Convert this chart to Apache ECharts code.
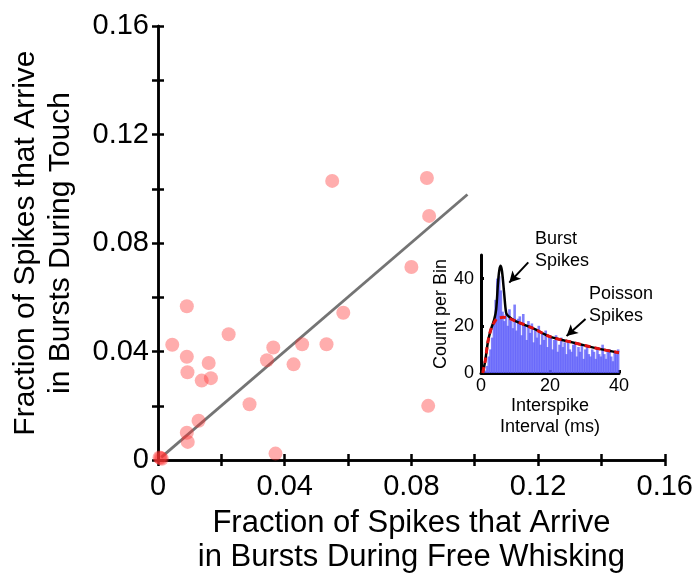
<!DOCTYPE html>
<html>
<head>
<meta charset="utf-8">
<script src="https://cdn.jsdelivr.net/npm/echarts@6/dist/echarts.min.js"></script>
<style>
html,body{margin:0;padding:0;background:#fff;}
#c{width:696px;height:579px;}
</style>
</head>
<body>
<div id="c"></div>
<script>
// Main scatter: fraction of burst spikes, free whisking (x) vs touch (y)
const xFree  = [0.0550,0.0849,0.0856,0.0800,0.0091,0.0585,0.0223,0.0045,0.0364,0.0455,0.0532,0.0091,0.0160,0.0344,0.0428,0.0093,0.0138,0.0167,0.0289,0.0128,0.0091,0.0094,0.0371,0.0853,0.0008,0.0012,0.0005];
const yTouch = [0.1029,0.1040,0.0900,0.0712,0.0567,0.0543,0.0464,0.0425,0.0415,0.0427,0.0427,0.0381,0.0358,0.0368,0.0353,0.0324,0.0293,0.0302,0.0206,0.0145,0.0101,0.0067,0.0024,0.0200,0.0008,0.0005,0.0010];
// Regression line end points
const fitX = [0.001, 0.0977];
const fitY = [0.001, 0.0979];
const mainTicks = ['0','0.04','0.08','0.12','0.16'];

// Inset: ISI histogram (0.5 ms bins, 0-40 ms)
const binWidth = 0.5;
const histCounts = [
  0,0,1,3,7,10,15,22,31,40,
  41,35,26,22,25,20,27,22,19,29,
  18,23,24,16,25,20,14,22,17,21,
  13,19,15,20,12,17,14,18,11,16,
  15,10,14,16,9,12,15,11,13,8,
  14,10,9,12,13,7,11,9,12,6,
  10,11,8,7,10,9,6,11,8,7,
  12,8,6,9,10,7,5,9,8,10];
// Fitted curves
const totalX = [0.5,1.2,2.1,3,3.8,4.4,4.9,5.3,5.7,6.1,6.7,7.3,8,10,15,20,25,30,35,40];
const totalY = [0,5,14,19,22.5,27,37.6,43.5,45.4,43,34,25.4,24,22,19,15.4,13.5,11.7,10,8.6];
const poissonX = [0.5,1.2,2.1,3,4.5,5,6.5,8,10,15,20,25,30,35,40];
const poissonY = [0,5,14,19,23,23.3,23.6,23.2,22,19,15.4,13.5,11.7,10,8.6];

const FONT = 'Liberation Sans, Arial, Helvetica, sans-serif';
const chart = echarts.init(document.getElementById('c'), null, {renderer:'canvas'});

const mainFmt = v => {
  const k = Math.round(v*100);
  if (k % 4 !== 0) return '';
  return mainTicks[k/4];
};
const axLine = {show:true, lineStyle:{color:'#000', width:2.5}};
const mainTick = {show:true, inside:true, length:6, lineStyle:{color:'#000', width:2.5}};

const option = {
  backgroundColor:'#fff',
  animation:false,
  textStyle:{fontFamily:FONT},
  grid:[
    {left:157, top:26, width:510, height:438},
    {left:481, top:255, width:138, height:118}
  ],
  xAxis:[
    {type:'value', gridIndex:0, min:0, max:0.16, interval:0.02,
     axisLine:axLine, splitLine:{show:false}, axisTick:mainTick,
     axisLabel:{formatter:mainFmt, fontSize:29, color:'#000', margin:12, fontFamily:FONT},
     name:'Fraction of Spikes that Arrive\nin Bursts During Free Whisking',
     nameLocation:'middle', nameGap:43,
     nameTextStyle:{fontSize:31, color:'#000', lineHeight:34, fontFamily:FONT}},
    {type:'value', gridIndex:0, position:'top', min:0, max:0.16, interval:0.02,
     axisLine:axLine, splitLine:{show:false}, axisLabel:{show:false}, axisTick:mainTick},
    {type:'value', gridIndex:1, min:0, max:40, interval:20,
     axisLine:{show:true, lineStyle:{color:'#000', width:3}}, splitLine:{show:false},
     axisTick:{show:true, inside:true, length:3, lineStyle:{color:'#000', width:3}},
     axisLabel:{fontSize:18, color:'#000', margin:4, fontFamily:FONT},
     name:'Interspike\nInterval (ms)', nameLocation:'middle', nameGap:21,
     nameTextStyle:{fontSize:18, color:'#000', lineHeight:21, fontFamily:FONT}}
  ],
  yAxis:[
    {type:'value', gridIndex:0, min:0, max:0.16, interval:0.02,
     axisLine:axLine, splitLine:{show:false}, axisTick:mainTick,
     axisLabel:{formatter:mainFmt, fontSize:29, color:'#000', margin:9, fontFamily:FONT},
     name:'Fraction of Spikes that Arrive\nin Bursts During Touch',
     nameLocation:'middle', nameGap:80,
     nameTextStyle:{fontSize:30, color:'#000', lineHeight:35, fontFamily:FONT}},
    {type:'value', gridIndex:0, position:'right', min:0, max:0.16, interval:0.02,
     axisLine:axLine, splitLine:{show:false}, axisLabel:{show:false}, axisTick:mainTick},
    {type:'value', gridIndex:1, min:0, max:50, interval:20,
     axisLine:{show:true, lineStyle:{color:'#000', width:3}}, splitLine:{show:false},
     axisTick:{show:true, inside:true, length:3, lineStyle:{color:'#000', width:3}},
     axisLabel:{fontSize:18, color:'#000', margin:7, fontFamily:FONT, showMaxLabel:false,
       formatter:v => (v===50 ? '' : String(v))},
     name:'Count per Bin', nameLocation:'middle', nameGap:22,
     nameTextStyle:{fontSize:18, color:'#000', fontFamily:FONT}}
  ],
  series:[
    {type:'line', xAxisIndex:0, yAxisIndex:0, data:fitX.map((x,i)=>[x,fitY[i]]),
     showSymbol:false, symbol:'none', lineStyle:{color:'#747474', width:2.8}, z:2},
    {type:'scatter', xAxisIndex:0, yAxisIndex:0, data:xFree.map((x,i)=>[x,yTouch[i]]),
     symbol:'circle', symbolSize:14, itemStyle:{color:'rgba(255,51,51,0.5)'}, z:3},
    {type:'bar', xAxisIndex:2, yAxisIndex:2,
     data:histCounts.map((c,i)=>[i*binWidth+binWidth/2, c]),
     barWidth:2.6, itemStyle:{color:'rgba(95,95,250,0.8)'}, z:2,
     markLine:{silent:true, symbol:['none','arrow'], symbolSize:[9,11],
       label:{show:false}, lineStyle:{color:'#000', width:2, type:'solid'},
       data:[
         [{coord:[13.7,46.9]},{coord:[8.2,38.3]}],
         [{coord:[30.3,22.9]},{coord:[24.8,15.7]}]
       ]}},
    {type:'line', xAxisIndex:2, yAxisIndex:2, data:totalX.map((x,i)=>[x,totalY[i]]),
     smooth:0.3, symbol:'none', lineStyle:{color:'#000', width:2.5}, z:4},
    {type:'line', xAxisIndex:2, yAxisIndex:2, data:poissonX.map((x,i)=>[x,poissonY[i]]),
     smooth:0.3, symbol:'none', lineStyle:{color:'#e01010', width:3, type:[6,4]}, z:5}
  ],
  graphic:[
    {type:'text', left:535, top:230, style:{text:'Burst', font:'18px '+FONT, fill:'#000', align:'center', verticalAlign:'middle'}},
    {type:'text', left:535, top:252, style:{text:'Spikes', font:'18px '+FONT, fill:'#000', align:'center', verticalAlign:'middle'}},
    {type:'text', left:589, top:285, style:{text:'Poisson', font:'18px '+FONT, fill:'#000', align:'center', verticalAlign:'middle'}},
    {type:'text', left:589, top:307, style:{text:'Spikes', font:'18px '+FONT, fill:'#000', align:'center', verticalAlign:'middle'}}
  ]
};
chart.setOption(option);
</script>
</body>
</html>
